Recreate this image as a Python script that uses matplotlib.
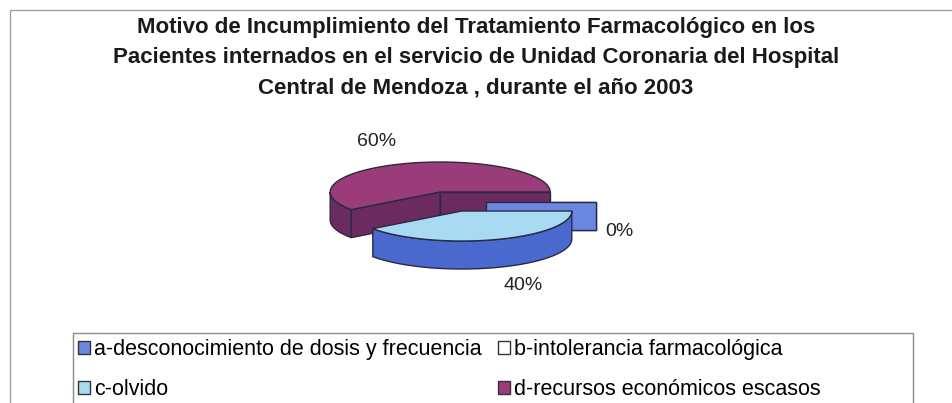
import numpy as np
import matplotlib
matplotlib.use("Agg")
import matplotlib.pyplot as plt
from matplotlib.patches import Polygon, Rectangle, Patch

# data
labels = ["a-desconocimiento de dosis y frecuencia", "b-intolerancia farmacológica",
          "c-olvido", "d-recursos económicos escasos"]
values = [0, 0, 40, 60]
top_colors = ["#6a88e2", "#ffffff", "#a8daf2", "#9a3b7a"]
side_colors = ["#6a88e2", "#ffffff", "#4a69cf", "#6b2b60"]
title_lines = ["Motivo de Incumplimiento del Tratamiento Farmacológico en los",
               "Pacientes internados en el servicio de Unidad Coronaria del Hospital",
               "Central de Mendoza , durante el año 2003"]
label_pos = [(619, 231), None, (523, 285), (377, 141)]

# pie geometry (pixel units)
CX, CY = 451, 201.5
RX, RY = 110, 30
DEPTH = 28
EX, EY = 35, 10
START = 0.0
EDGE = "#2a2a40"

fig = plt.figure(figsize=(9.53, 4.03), dpi=100)
ax = fig.add_axes([0, 0, 1, 1])
ax.set_xlim(0, 953)
ax.set_ylim(403, 0)
ax.axis("off")

# chart area border
ax.add_patch(Rectangle((10, 10), 960, 420, fill=False, edgecolor="#a0a0a0", lw=1))

# slice angles, clockwise from START
total = sum(values)
slices = []
ang = START
for i, v in enumerate(values):
    sweep = 360.0 * v / total
    hi, lo = ang, ang - sweep
    mid = np.radians((hi + lo) / 2)
    cx = CX + EX * np.cos(mid)
    cy = CY - EY * np.sin(mid)
    slices.append((i, lo, hi, cx, cy))
    ang = lo


def pt(cx, cy, t):
    t = np.radians(t)
    return cx + RX * np.cos(t), cy - RY * np.sin(t)


def arc(cx, cy, t1, t2, n=80):
    t = np.radians(np.linspace(t1, t2, n))
    return np.column_stack([cx + RX * np.cos(t), cy - RY * np.sin(t)])


def draw_slice(i, lo, hi, cx, cy):
    # radial walls facing the viewer
    for t, normal in ((lo, lo - 90), (hi, hi + 90)):
        if np.sin(np.radians(normal)) < 0:
            x, y = pt(cx, cy, t)
            quad = [(cx, cy), (x, y), (x, y + DEPTH), (cx, cy + DEPTH)]
            ax.add_patch(Polygon(quad, closed=True, facecolor=side_colors[i],
                                 edgecolor=EDGE, lw=1))
    # outer side, front part only
    for k in range(-2, 2):
        a0, a1 = max(lo, -180 + 360 * k), min(hi, 360 * k)
        if a1 > a0:
            top = arc(cx, cy, a0, a1)
            bot = top[::-1] + [0, DEPTH]
            ax.add_patch(Polygon(np.vstack([top, bot]), closed=True,
                                 facecolor=side_colors[i], edgecolor=EDGE, lw=1))
    # top face
    if hi > lo:
        face = np.vstack([[cx, cy], arc(cx, cy, lo, hi)])
        ax.add_patch(Polygon(face, closed=True, facecolor=top_colors[i],
                             edgecolor=EDGE, lw=1))


# back slice first, then zero slices, then front slice
order = [3, 1, 0, 2]
for j in order:
    draw_slice(*slices[j])

for i, v in enumerate(values):
    if label_pos[i] is not None:
        ax.text(label_pos[i][0], label_pos[i][1], "%d%%" % v, ha="center", va="center",
                fontsize=14, family="Liberation Sans", color="#222222")

# title
for k, line in enumerate(title_lines):
    ax.text(476, 27 + 30.5 * k, line, ha="center", va="center", fontsize=16,
            fontweight="bold", family="Liberation Sans", color="#1a1a1a")

# legend
ax.add_patch(Rectangle((73, 333), 840, 120, fill=False, edgecolor="#8a8a8a", lw=1))
handles = [Patch(facecolor=top_colors[i], edgecolor="#333333", lw=1) for i in range(4)]
idx = [0, 2, 1, 3]
ax.legend([handles[i] for i in idx], [labels[i] for i in idx], ncol=2,
          loc="upper left", bbox_to_anchor=(78, 339), bbox_transform=ax.transData,
          frameon=False, borderpad=0, borderaxespad=0, handlelength=0.55, handleheight=0.55,
          handletextpad=0.2, columnspacing=0.75, labelspacing=0.9,
          prop={"family": "Liberation Sans", "size": 15.5})

fig.savefig("out.png", dpi=100, facecolor="white")
